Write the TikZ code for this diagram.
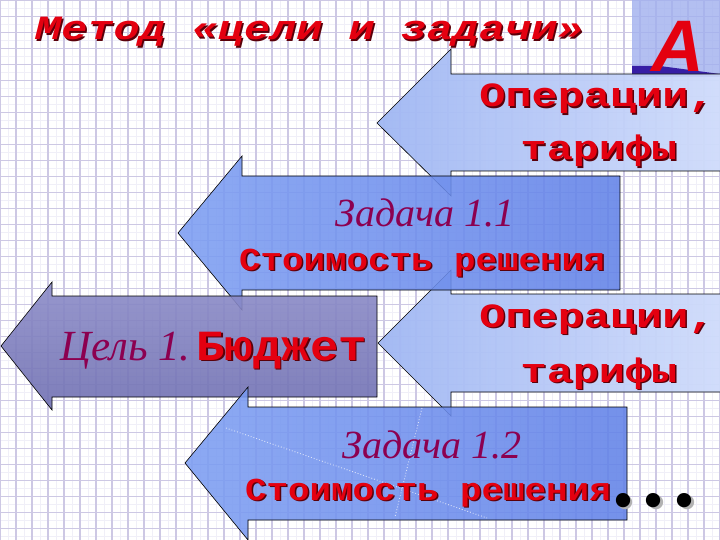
\documentclass[tikz,border=0pt]{standalone}
\usepackage{fontspec}
\usepackage{xcolor}
\usepackage{tikz}
\usetikzlibrary{calc}
\newfontfamily\courierA{Liberation Mono}[FakeStretch=1.28]
\newfontfamily\courierB{Liberation Mono}[FakeStretch=1.12]
\newfontfamily\courierC{Liberation Mono}[FakeStretch=1.1]
\newfontfamily\corsiva{Liberation Serif}
\newfontfamily\arial{Liberation Sans}

\definecolor{rouge}{RGB}{228,0,16}
\definecolor{ombrecol}{RGB}{90,0,10}
\definecolor{violet}{RGB}{140,0,80}
\definecolor{grille}{RGB}{205,200,228}
\definecolor{grillefine}{RGB}{240,239,248}
\definecolor{bleuclair}{RGB}{160,183,243}
\definecolor{bleuclairD}{RGB}{208,220,251}
\definecolor{bleu}{RGB}{98,130,232}
\definecolor{bleuG}{RGB}{125,158,242}
\definecolor{mauveH}{RGB}{140,140,200}
\definecolor{mauveB}{RGB}{112,112,178}
\definecolor{marine}{RGB}{55,30,165}
\definecolor{ciel}{RGB}{160,176,238}

\newcommand{\ombre}[1]{\leavevmode\rlap{\kern1.5pt\raisebox{-1.5pt}{\color{ombrecol}#1}}#1}

\tikzset{
  titre/.style={text=rouge, inner sep=0pt, font={\courierA\bfseries\itshape\fontsize{34}{40}\selectfont}},
  operation/.style={text=rouge, inner sep=0pt, font={\courierA\bfseries\fontsize{34}{40}\selectfont}},
  cout/.style={text=rouge, inner sep=0pt, font={\courierB\bfseries\fontsize{32}{38}\selectfont}},
  script/.style={text=violet, inner sep=0pt, font={\corsiva\itshape\fontsize{40}{46}\selectfont}},
  fleche/.style={draw=black, line width=0.6pt, line join=miter},
}

\begin{document}
\begin{tikzpicture}[x=1pt, y=-1pt]
    \useasboundingbox (0,0) rectangle (720,540);
    \clip (0,0) rectangle (720,540);

    % Papier quadrille
    \fill[white] (0,0) rectangle (720,540);
    \foreach \k in {0,...,90} \draw[grillefine, line width=0.5pt] (\k*8,0) -- (\k*8,540);
    \foreach \k in {0,...,68} \draw[grillefine, line width=0.5pt] (0,\k*8+0.5) -- (720,\k*8+0.5);
    \foreach \k in {0,...,45} \draw[grille, line width=1.3pt] (\k*16,0) -- (\k*16,540);
    \foreach \k in {0,...,34} \draw[grille, line width=1.3pt] (0,\k*16+0.5) -- (720,\k*16+0.5);

    % Coin du logo
    \fill[ciel, fill opacity=0.8] (632,0) rectangle (720,76);
    \fill[marine] (632,66) -- (660,66) -- (720,74) -- (720,77) -- (632,77) -- cycle;

    % Fleches claires
    \shadedraw[fleche, left color=bleuclair, right color=bleuclairD, fill opacity=0.95]
        (377,123) -- (451,49) -- (451,74) -- (725,74) -- (725,171) -- (451,171) -- (451,196) -- cycle;
    \shadedraw[fleche, left color=bleuclair, right color=bleuclairD, fill opacity=0.95]
        (378,343) -- (451,270) -- (451,294) -- (725,294) -- (725,392) -- (451,392) -- (451,416) -- cycle;

    % Taches
    \shadedraw[fleche, left color=bleuG, right color=bleu, fill opacity=0.88]
        (178,233) -- (242,156) -- (242,176) -- (620,176) -- (620,290) -- (242,290) -- (242,310) -- cycle;

    % But
    \shadedraw[fleche, top color=mauveH, bottom color=mauveB, fill opacity=0.9]
        (1,346) -- (52,282) -- (52,296) -- (377,296) -- (377,397) -- (52,397) -- (52,410) -- cycle;

    \shadedraw[fleche, left color=bleuG, right color=bleu, fill opacity=0.88]
        (185,463) -- (248,387) -- (248,407) -- (627,407) -- (627,520) -- (248,520) -- (248,540) -- cycle;
    \draw[white, dotted, line width=0.9pt, opacity=0.7] (226,428) -- (487,518);
    \draw[white, dotted, line width=0.9pt, opacity=0.7] (422,408) -- (395,517);

    % Textes
    \node[titre, anchor=base west] (titre) at (35,40) {\ombre{Метод «цели и задачи»}};
    \node[text=rouge, anchor=base west, inner sep=0pt, text depth=0pt,
          font={\arial\bfseries\itshape\fontsize{73}{80}\selectfont}] (lettreA) at (651,72) {A};

    \node[operation, anchor=base] (op1) at (597,107) {\ombre{Операции,}};
    \node[operation, anchor=base] (tarif1) at (599,160) {\ombre{тарифы}};
    \node[operation, anchor=base] (op2) at (597,327) {\ombre{Операции,}};
    \node[operation, anchor=base] (tarif2) at (599,382) {\ombre{тарифы}};

    \node[script, anchor=base] (tache1) at (425,226) {Задача 1.1};
    \node[cout, anchor=base] (cout1) at (422,270) {\ombre{Стоимость решения}};
    \node[script, anchor=base] (tache2) at (432,458) {Задача 1.2};
    \node[cout, anchor=base] (cout2) at (428,500) {\ombre{Стоимость решения}};

    \node[script, anchor=base west, font={\corsiva\itshape\fontsize{43}{48}\selectfont}] (but) at (60,360)
        {Цель 1.\kern6pt{\upshape\color{rouge}\courierC\bfseries\fontsize{43}{50}\selectfont\ombre{Бюджет}}};

    \node[anchor=base, inner sep=0pt, font={\corsiva\bfseries\fontsize{88}{92}\selectfont}] (points) at (654,506)
        {\rlap{\kern2.5pt\raisebox{-2.5pt}{\color{gray!60}.\kern9pt.\kern9pt.}}.\kern9pt.\kern9pt.};
\end{tikzpicture}
\end{document}
